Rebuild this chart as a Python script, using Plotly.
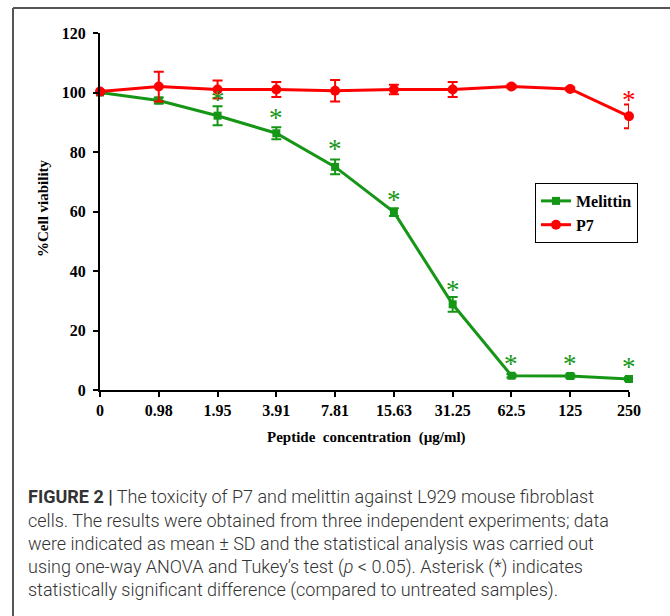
import plotly.graph_objects as go

categories = ["0", "0.98", "1.95", "3.91", "7.81", "15.63", "31.25", "62.5", "125", "250"]
melittin = [100, 97.3, 92.2, 86.3, 75.0, 59.8, 28.8, 4.8, 4.7, 3.7]
melittin_sd = [0.5, 1.0, 3.2, 2.0, 2.5, 1.3, 2.5, 0.6, 0.6, 0.6]
p7 = [100.3, 102.0, 101.0, 101.0, 100.6, 101.0, 101.0, 102.0, 101.2, 92.0]
p7_sd = [0.5, 5.0, 3.0, 2.5, 3.6, 1.6, 2.5, 0.6, 0.5, 4.0]
mel_star = [None, None, 97.5, 91.5, 81.0, 64.0, 33.5, 8.8, 8.8, 7.8]
p7_star = [None, None, None, None, None, None, None, None, None, 97.5]

green = "rgb(22,150,22)"
red = "rgb(255,0,0)"
xs = list(range(len(categories)))
serif = "Liberation Serif, Times New Roman, serif"

fig = go.Figure()
fig.add_trace(go.Scatter(
    x=xs, y=melittin, name="Melittin", mode="lines+markers",
    line=dict(color=green, width=3),
    marker=dict(symbol="square", size=8, color=green),
    error_y=dict(type="data", array=melittin_sd, color=green, thickness=2, width=5),
    cliponaxis=False))
fig.add_trace(go.Scatter(
    x=xs, y=p7, name="P7", mode="lines+markers",
    line=dict(color=red, width=3),
    marker=dict(symbol="circle", size=10, color=red),
    error_y=dict(type="data", array=p7_sd, color=red, thickness=2, width=5),
    cliponaxis=False))

annotations = []
for i, v in enumerate(mel_star):
    if v is not None:
        annotations.append(dict(x=i, y=v, xref="x", yref="y", text="*", showarrow=False,
                                font=dict(family=serif, size=27, color=green), yanchor="middle"))
for i, v in enumerate(p7_star):
    if v is not None:
        annotations.append(dict(x=i, y=v, xref="x", yref="y", text="*", showarrow=False,
                                font=dict(family=serif, size=27, color=red), yanchor="middle"))


def px_x(px):
    return (px - 100) / 529.0


def px_y(py):
    return (390 - py) / 357.0


annotations.append(dict(x=px_x(43), y=px_y(208), xref="paper", yref="paper",
                        text="<b>%Cell viability</b>", textangle=-90, showarrow=False,
                        font=dict(family=serif, size=15, color="black"),
                        xanchor="center", yanchor="middle"))
annotations.append(dict(x=px_x(366), y=px_y(437), xref="paper", yref="paper",
                        text="<b>Peptide&nbsp; concentration&nbsp; (µg/ml)</b>", showarrow=False,
                        font=dict(family=serif, size=15, color="black"),
                        xanchor="center", yanchor="middle"))

caption_lines = [
    "<b>FIGURE 2 |</b> The toxicity of P7 and melittin against L929 mouse fibroblast",
    "cells. The results were obtained from three independent experiments; data",
    "were indicated as mean ± SD and the statistical analysis was carried out",
    "using one-way ANOVA and Tukey’s test (<i>p</i> &lt; 0.05). Asterisk (*) indicates",
    "statistically significant difference (compared to untreated samples).",
]
caption_y = [496, 520, 543, 567, 590]
cap_font = "Roboto, Liberation Sans, sans-serif"
for line, yy in zip(caption_lines, caption_y):
    annotations.append(dict(x=px_x(26), y=px_y(yy), xref="paper", yref="paper",
                            text=line, showarrow=False, xanchor="left", yanchor="middle",
                            font=dict(family=cap_font, size=18, color="#333333", weight=300)))

shapes = [
    dict(type="line", xref="paper", yref="paper", x0=px_x(13), x1=px_x(13),
         y0=px_y(640), y1=px_y(8), line=dict(color="#555555", width=2)),
    dict(type="line", xref="paper", yref="paper", x0=px_x(13), x1=px_x(700),
         y0=px_y(8), y1=px_y(8), line=dict(color="#555555", width=2)),
]

fig.update_layout(
    width=670, height=616,
    margin=dict(l=100, r=41, t=33, b=226),
    paper_bgcolor="white", plot_bgcolor="white",
    showlegend=True,
    legend=dict(x=px_x(535), y=px_y(183), xanchor="left", yanchor="top",
                bordercolor="black", borderwidth=1, bgcolor="white",
                font=dict(family=serif, size=16, color="black", weight="bold"),
                itemwidth=30, tracegroupgap=0),
    annotations=annotations,
    shapes=shapes,
    xaxis=dict(range=[0, 9], tickvals=xs, ticktext=categories, showgrid=False,
               zeroline=False, showline=True, linecolor="black", linewidth=2,
               ticks="outside", ticklen=5, tickwidth=2, tickcolor="black",
               tickfont=dict(family=serif, size=16, color="black", weight="bold")),
    yaxis=dict(range=[0, 120], tickvals=[0, 20, 40, 60, 80, 100, 120], showgrid=False,
               zeroline=False, showline=True, linecolor="black", linewidth=2,
               ticks="outside", ticklen=5, tickwidth=2, tickcolor="black",
               ticklabelstandoff=4,
               tickfont=dict(family=serif, size=16, color="black", weight="bold")),
)

fig.write_html("out.html")
